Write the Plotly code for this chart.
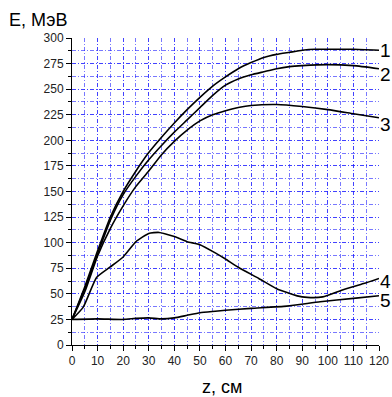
import plotly.graph_objects as go

# Curve 1
z1 = [0, 5, 10, 15, 20, 25, 30, 35, 40, 45, 50, 55, 60, 65, 70, 75, 80, 85, 90, 95, 100, 110, 120]
e1 = [25, 57, 92, 125, 150, 170, 188, 203, 217, 230, 242, 253, 262, 270, 276, 281, 284, 286, 288, 289, 289, 289, 288]
# Curve 2
z2 = [0, 5, 10, 15, 20, 25, 30, 35, 40, 45, 50, 55, 60, 65, 70, 75, 80, 85, 90, 100, 110, 120]
e2 = [25, 55, 89, 122, 147, 165, 181, 195, 208, 220, 232, 244, 254, 260, 264, 267, 270, 272, 273, 274, 273, 270]
# Curve 3
z3 = [0, 5, 10, 15, 20, 25, 30, 35, 40, 45, 50, 55, 60, 65, 70, 80, 90, 100, 110, 120]
e3 = [25, 52, 87, 114, 136, 155, 170, 186, 199, 210, 219, 225, 229, 232, 234, 235, 233, 230, 226, 222]
# Curve 4
z4 = [0, 4.4, 9.6, 14.8, 20, 25, 30, 34, 40, 45, 50, 56, 60, 65, 73, 80, 88, 92, 98, 106, 114, 120]
e4 = [25, 37, 66, 76, 86, 101, 109, 110, 106, 101, 98, 90, 84, 76, 65, 55, 48, 46.5, 47, 54, 60, 65]
# Curve 5
z5 = [0, 10, 20, 25, 30, 35, 40, 45, 50, 56, 60, 70, 84, 97, 110, 120]
e5 = [25, 25.5, 25, 26, 26.5, 25.5, 26.5, 29, 31.5, 33, 34, 35.8, 38, 42.3, 45.6, 48.2]

curve_labels = ["1", "2", "3", "4", "5"]
label_shift = [0, -6, -7, -3, -5]

x_ticks = list(range(0, 121, 10))
y_ticks = list(range(0, 301, 25))

series = [(z1, e1), (z2, e2), (z3, e3), (z4, e4), (z5, e5)]

fig = go.Figure()
for zs, es in series:
    fig.add_trace(go.Scatter(x=zs, y=es, mode="lines",
                             line=dict(color="black", width=1.6, shape="spline", smoothing=0.5),
                             showlegend=False, hoverinfo="skip"))

for (zs, es), lab, sh in zip(series, curve_labels, label_shift):
    fig.add_annotation(x=zs[-1], y=es[-1], text=lab, showarrow=False,
                       xanchor="left", yanchor="middle", xshift=-1, yshift=sh,
                       font=dict(size=19, color="black", family="Liberation Sans"))

grid_col = "rgba(30,30,255,0.6)"
grid_dash = "4px,2px,1px,2px"

fig.update_xaxes(range=[0, 120], tickmode="array", tickvals=x_ticks,
                 ticktext=[str(v) for v in x_ticks], automargin=False,
                 showline=True, linecolor="black", linewidth=1,
                 ticks="outside", ticklen=5, tickcolor="black",
                 showgrid=True, gridcolor=grid_col, griddash=grid_dash, gridwidth=1,
                 minor=dict(dtick=5, tick0=0, showgrid=True, gridcolor=grid_col, griddash=grid_dash,
                            ticks="outside", ticklen=3, tickcolor="black"),
                 zeroline=False,
                 tickfont=dict(size=12, color="#222", family="Liberation Sans"))
fig.update_yaxes(range=[0, 300], tickmode="array", tickvals=y_ticks,
                 ticktext=[str(v) for v in y_ticks], automargin=False,
                 showline=True, linecolor="black", linewidth=1,
                 ticks="outside", ticklen=5, tickcolor="black",
                 showgrid=True, gridcolor=grid_col, griddash=grid_dash, gridwidth=1,
                 minor=dict(dtick=12.5, tick0=0, showgrid=True, gridcolor=grid_col, griddash=grid_dash,
                            ticks="outside", ticklen=3, tickcolor="black"),
                 zeroline=False,
                 tickfont=dict(size=12, color="#222", family="Liberation Sans"))

fig.add_annotation(text="E, МэВ", xref="paper", yref="paper", x=-0.212, y=1.0,
                   xanchor="left", yanchor="bottom", yshift=6, showarrow=False,
                   font=dict(size=18, color="black", family="Liberation Sans"))
fig.add_annotation(text="z, см", xref="paper", yref="paper", x=0.49, y=0,
                   xanchor="center", yanchor="top", yshift=-30, showarrow=False,
                   font=dict(size=18, color="black", family="Liberation Sans"))

fig.update_layout(width=392, height=397, margin=dict(l=72, r=13, t=38, b=52),
                  paper_bgcolor="white", plot_bgcolor="white",
                  font=dict(family="Liberation Sans"))

fig.write_html("out.html", config={"displayModeBar": False},
               post_script="document.body.style.margin='0px';")
